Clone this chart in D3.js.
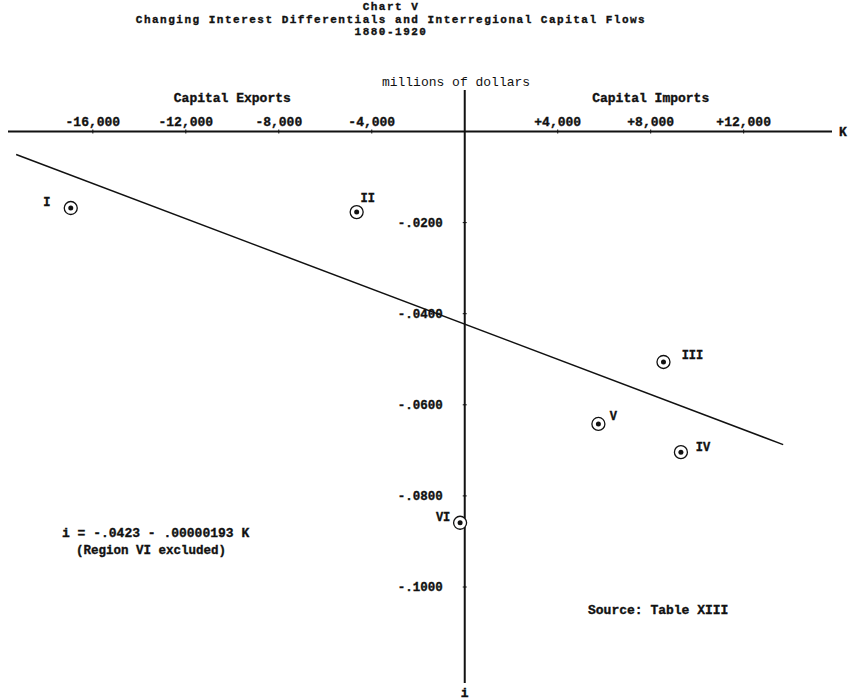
<!DOCTYPE html>
<html>
<head>
<meta charset="utf-8">
<script src="https://cdn.jsdelivr.net/npm/d3@7"></script>
<style>
    body { margin: 0; background: #fff; }
    text { font-family: "Liberation Mono", "DejaVu Sans Mono", monospace; fill: #111; }
    .ink { stroke: #111; stroke-width: 0.35; }
</style>
</head>
<body>
<svg id="chart"></svg>
<script>
// Chart V data
const regions = ["I", "II", "III", "IV", "V", "VI"];
const capitalFlows = [-16950, -4650, 8550, 9300, 5750, -200];      // K, millions of dollars
const interestDiffs = [-0.0168, -0.0177, -0.0506, -0.0704, -0.0642, -0.0859]; // i

const xTicks = [-16000, -12000, -8000, -4000, 4000, 8000, 12000];
const xTickLabels = ["-16,000", "-12,000", "-8,000", "-4,000", "+4,000", "+8,000", "+12,000"];
const yTicks = [-0.02, -0.04, -0.06, -0.08, -0.10];
const yTickLabels = ["-.0200", "-.0400", "-.0600", "-.0800", "-.1000"];

// i = -.0423 - .00000193 K  (Region VI excluded)
const fitIntercept = -0.0423;
const fitSlope = -0.00000193;
const fitRange = [-19300, 13700];

const width = 848, height = 700;

// where each roman numeral sits relative to its circle
const labelOffset = {
    I: [-24, -6], II: [11, -14], III: [29, -7],
    IV: [22, -5], V: [15, -8], VI: [-17, -6]
};

const points = regions.map((r, i) => ({ region: r, k: capitalFlows[i], i: interestDiffs[i] }));

const svg = d3.select("#chart")
    .attr("width", width)
    .attr("height", height);

const x = d3.scaleLinear().domain([-19650, 15800]).range([8, 832]);
const y = d3.scaleLinear().domain([0, -0.1]).range([131.5, 587]);

const x0 = x(0), y0 = y(0);

// titles
const titles = svg.append("g").attr("class", "titles ink")
    .attr("text-anchor", "middle")
    .attr("font-weight", "bold")
    .attr("font-size", 11)
    .attr("letter-spacing", 1.5);
titles.append("text").attr("x", 391).attr("y", 10).text("Chart V");
titles.append("text").attr("x", 391).attr("y", 23)
    .text("Changing Interest Differentials and Interregional Capital Flows");
titles.append("text").attr("x", 391).attr("y", 35).text("1880-1920");

svg.append("text")
    .attr("x", 456).attr("y", 86)
    .attr("text-anchor", "middle")
    .attr("font-size", 13)
    .text("millions of dollars");

svg.append("g")
    .attr("class", "ink")
    .attr("font-weight", "bold")
    .attr("font-size", 13)
    .attr("text-anchor", "middle")
    .selectAll("text")
    .data([["Capital Exports", -10000], ["Capital Imports", 8000]])
    .join("text")
    .attr("x", d => x(d[1]))
    .attr("y", 102)
    .text(d => d[0]);

// axes
const axes = svg.append("g").attr("class", "axes").attr("stroke", "#111");
axes.append("line")
    .attr("x1", x.range()[0]).attr("x2", x.range()[1])
    .attr("y1", y0).attr("y2", y0)
    .attr("stroke-width", 2);
axes.append("line")
    .attr("x1", x0).attr("x2", x0)
    .attr("y1", 90).attr("y2", 683)
    .attr("stroke-width", 2);

axes.selectAll(".xtick")
    .data(xTicks)
    .join("line")
    .attr("class", "xtick")
    .attr("x1", d => x(d)).attr("x2", d => x(d))
    .attr("y1", y0 - 2).attr("y2", y0 + 2)
    .attr("stroke-width", 1);

axes.selectAll(".ytick")
    .data(yTicks)
    .join("line")
    .attr("class", "ytick")
    .attr("x1", x0 - 2).attr("x2", x0 + 2)
    .attr("y1", d => y(d)).attr("y2", d => y(d))
    .attr("stroke-width", 1);

svg.append("g")
    .attr("class", "ink")
    .attr("font-weight", "bold")
    .attr("font-size", 13)
    .attr("text-anchor", "middle")
    .selectAll("text")
    .data(xTicks)
    .join("text")
    .attr("x", d => x(d))
    .attr("y", y0 - 6)
    .text((d, i) => xTickLabels[i]);

svg.append("g")
    .attr("class", "ink")
    .attr("font-weight", "bold")
    .attr("font-size", 12.5)
    .attr("text-anchor", "end")
    .selectAll("text")
    .data(yTicks)
    .join("text")
    .attr("x", x0 - 22)
    .attr("y", d => y(d))
    .attr("dy", "0.35em")
    .text((d, i) => yTickLabels[i]);

svg.append("text")
    .attr("class", "ink")
    .attr("x", 839).attr("y", y0).attr("dy", "0.35em")
    .attr("font-weight", "bold").attr("font-size", 13)
    .text("K");
svg.append("text")
    .attr("class", "ink")
    .attr("x", x0).attr("y", 697)
    .attr("text-anchor", "middle")
    .attr("font-weight", "bold").attr("font-size", 13)
    .text("i");

// regression line
svg.append("line")
    .attr("x1", x(fitRange[0]))
    .attr("y1", y(fitIntercept + fitSlope * fitRange[0]))
    .attr("x2", x(fitRange[1]))
    .attr("y2", y(fitIntercept + fitSlope * fitRange[1]))
    .attr("stroke", "#111")
    .attr("stroke-width", 1.5);

// region markers
const marks = svg.append("g").attr("class", "regions")
    .selectAll("g")
    .data(points)
    .join("g")
    .attr("transform", d => `translate(${x(d.k)},${y(d.i)})`);

marks.append("circle")
    .attr("r", 6.5)
    .attr("fill", "#fff")
    .attr("stroke", "#111")
    .attr("stroke-width", 1.3);
marks.append("circle")
    .attr("r", 2.5)
    .attr("fill", "#111");
marks.append("text")
    .attr("class", "ink")
    .attr("x", d => labelOffset[d.region][0])
    .attr("y", d => labelOffset[d.region][1])
    .attr("dy", "0.35em")
    .attr("text-anchor", "middle")
    .attr("font-weight", "bold")
    .attr("font-size", 12)
    .text(d => d.region);

// notes
const notes = svg.append("g")
    .attr("class", "ink")
    .attr("font-weight", "bold")
    .attr("font-size", 13);
notes.append("text").attr("x", 62).attr("y", 537)
    .text("i = -.0423 - .00000193 K");
notes.append("text").attr("x", 76).attr("y", 554)
    .attr("font-size", 12.5)
    .text("(Region VI excluded)");
notes.append("text").attr("x", 588).attr("y", 614)
    .text("Source: Table XIII");
</script>
</body>
</html>
